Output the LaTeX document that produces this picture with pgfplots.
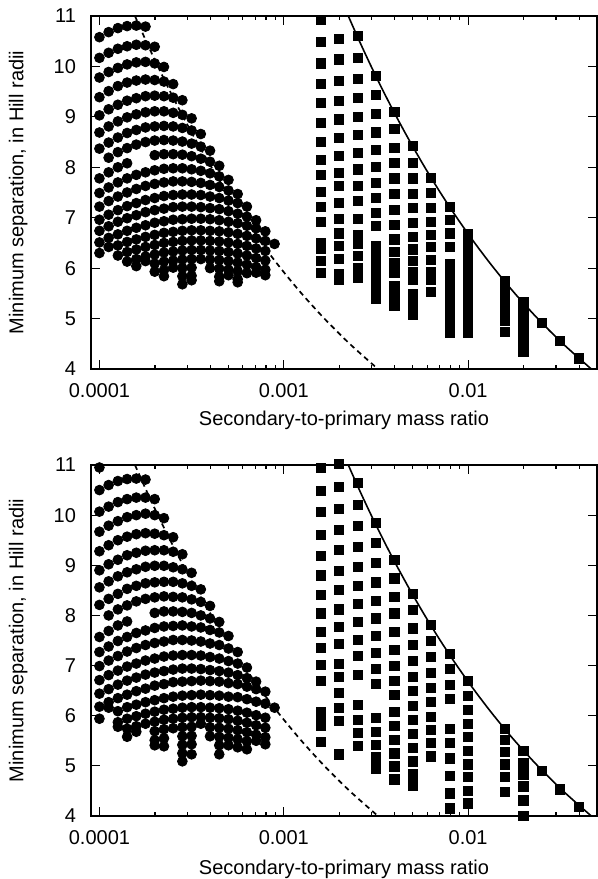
\documentclass[border=0pt]{standalone}
\usepackage{fontspec}
\setmainfont{Liberation Sans}
\usepackage{pgfplots}
\usepackage{pgfplotstable}
\pgfplotsset{compat=1.18}

% circles, top panel: one row per mass ratio, one column per sequence
\pgfplotstableread{
x a0 a1 a2 a3 a4 a5 a6 a7 a8 a9 a10 a11 a12 a13 a14 a15 a16 a17 a18 a19 a20
1.000e-4 10.58 10.17 9.78 9.39 9.03 8.69 8.37 nan 7.78 7.49 7.22 6.96 6.74 6.51 6.30 nan nan nan nan nan nan
1.122e-4 10.68 10.27 9.89 9.51 9.15 8.81 8.49 8.19 7.90 7.60 7.33 7.06 6.83 6.60 6.42 nan nan nan nan nan nan
1.259e-4 10.76 10.35 9.97 9.61 9.24 8.91 8.59 8.30 8.00 7.70 7.42 7.15 6.92 6.67 6.45 6.25 nan nan nan nan nan
1.413e-4 10.80 10.40 10.04 9.68 9.32 8.99 8.68 8.38 8.08 7.78 7.50 7.23 6.99 6.74 6.52 6.32 6.13 nan nan nan nan
1.585e-4 10.81 10.43 10.08 9.72 9.37 9.05 8.74 8.45 nan 7.85 7.57 7.29 7.05 6.80 6.57 6.37 6.18 6.04 nan nan nan
1.778e-4 10.79 10.42 10.09 9.74 9.41 9.09 8.79 8.50 nan 7.90 7.63 7.35 7.11 6.85 6.62 6.42 6.23 6.14 nan nan nan
1.995e-4 nan 10.39 10.06 9.73 9.42 9.11 8.81 8.53 8.24 7.94 7.67 7.39 7.15 6.90 6.66 6.46 6.27 6.09 5.93 nan nan
2.239e-4 nan nan 9.99 9.70 9.41 9.11 8.82 8.54 8.26 7.97 7.70 7.43 7.18 6.93 6.70 6.50 6.31 6.13 5.96 5.84 nan
2.512e-4 nan nan nan 9.65 9.38 9.08 8.81 8.53 8.26 7.98 7.72 7.45 7.21 6.96 6.72 6.52 6.33 6.15 6.01 nan nan
2.818e-4 nan nan nan nan 9.33 9.04 8.78 8.51 8.25 7.98 7.72 7.46 7.22 6.97 6.74 6.54 6.35 6.17 6.00 5.84 5.68
3.162e-4 nan nan nan nan nan 8.97 8.73 8.47 8.22 7.96 7.71 7.46 7.22 6.98 6.75 6.55 6.36 6.18 6.01 5.85 5.76
3.548e-4 nan nan nan nan nan nan 8.66 8.41 8.17 7.93 7.69 7.45 7.21 6.98 6.75 6.55 6.36 6.18 nan nan nan
3.981e-4 nan nan nan nan nan nan nan 8.33 8.11 7.88 7.65 7.42 7.19 6.97 6.74 6.54 6.35 6.17 6.00 nan nan
4.467e-4 nan nan nan nan nan nan nan nan 8.03 7.82 7.61 7.39 7.17 6.95 6.73 6.53 6.34 6.16 5.99 5.83 5.74
5.012e-4 nan nan nan nan nan nan nan nan nan 7.75 7.54 7.34 7.13 6.92 6.71 6.51 6.32 6.14 5.97 5.86 nan
5.623e-4 nan nan nan nan nan nan nan nan nan nan 7.47 7.29 7.08 6.89 6.68 6.48 6.29 6.11 5.94 5.78 5.72
6.310e-4 nan nan nan nan nan nan nan nan nan nan nan 7.22 7.02 6.84 6.64 6.44 6.25 6.07 5.90 nan nan
7.079e-4 nan nan nan nan nan nan nan nan nan nan nan nan 6.95 6.79 6.59 6.39 6.20 6.02 5.91 nan nan
7.943e-4 nan nan nan nan nan nan nan nan nan nan nan nan nan 6.73 6.54 6.34 6.15 5.97 5.86 nan nan
8.913e-4 nan nan nan nan nan nan nan nan nan nan nan nan nan nan 6.48 nan nan nan nan nan nan
}\topcirc

% circles, bottom panel
\pgfplotstableread{
x b0 b1 b2 b3 b4 b5 b6 b7 b8 b9 b10 b11 b12 b13 b14 b15 b16 b17 b18 b19 b20 b21 b22
1.000e-4 10.95 10.50 10.07 9.67 9.28 8.90 8.56 8.21 nan 7.57 7.27 6.99 6.71 6.44 6.18 5.94 nan nan nan nan nan nan nan
1.122e-4 nan 10.60 10.17 9.79 9.40 9.02 8.68 8.33 8.00 7.69 7.38 7.10 6.81 6.53 6.27 6.16 nan nan nan nan nan nan nan
1.259e-4 nan 10.68 10.26 9.88 9.50 9.11 8.78 8.43 8.12 7.80 7.49 7.19 6.90 6.62 6.35 6.09 5.87 5.78 nan nan nan nan nan
1.413e-4 nan 10.72 10.32 9.96 9.57 9.20 8.86 8.53 8.20 7.88 7.57 7.28 6.98 6.70 6.42 6.17 5.94 5.74 5.58 nan nan nan nan
1.585e-4 nan 10.73 10.35 10.00 9.62 9.25 8.92 8.59 8.28 nan 7.65 7.35 7.04 6.76 6.49 6.22 5.99 5.79 5.68 nan nan nan nan
1.778e-4 nan 10.71 10.35 10.03 9.64 9.29 8.97 8.64 8.33 nan 7.70 7.41 7.10 6.82 6.54 6.27 6.04 5.84 nan nan nan nan nan
1.995e-4 nan nan 10.32 10.00 9.63 9.30 8.99 8.66 8.36 8.05 7.75 7.45 7.14 6.86 6.60 6.31 6.08 5.88 5.69 5.51 5.41 nan nan
2.239e-4 nan nan nan 9.94 9.60 9.30 8.99 8.67 8.38 8.08 7.78 7.48 7.18 6.89 6.63 6.35 6.12 5.92 5.73 5.55 5.39 nan nan
2.512e-4 nan nan nan nan 9.56 9.27 8.96 8.67 8.37 8.08 7.79 7.51 7.20 6.92 6.67 6.38 6.14 5.94 5.75 nan nan nan nan
2.818e-4 nan nan nan nan nan 9.22 8.92 8.64 8.36 8.07 7.80 7.51 7.21 6.94 6.68 6.40 6.16 5.96 5.77 5.59 5.42 5.25 5.09
3.162e-4 nan nan nan nan nan nan 8.85 8.59 8.32 8.05 7.78 7.50 7.21 6.94 6.69 6.41 6.17 5.97 5.78 5.60 5.43 5.23 nan
3.548e-4 nan nan nan nan nan nan nan 8.52 8.27 8.00 7.76 7.48 7.20 6.93 6.70 6.42 6.17 5.97 5.84 nan nan nan nan
3.981e-4 nan nan nan nan nan nan nan nan 8.19 7.94 7.71 7.44 7.17 6.91 6.69 6.41 6.16 5.96 5.77 5.59 nan nan nan
4.467e-4 nan nan nan nan nan nan nan nan nan 7.87 7.66 7.41 7.14 6.89 6.68 6.40 6.15 5.95 5.76 5.58 5.41 5.23 nan
5.012e-4 nan nan nan nan nan nan nan nan nan nan 7.59 7.34 7.09 6.86 6.65 6.38 6.13 5.93 5.74 5.56 5.41 nan nan
5.623e-4 nan nan nan nan nan nan nan nan nan nan nan 7.27 7.04 6.81 6.63 6.37 6.10 5.90 5.71 5.53 5.37 nan nan
6.310e-4 nan nan nan nan nan nan nan nan nan nan nan nan 6.96 6.75 6.58 6.33 6.06 5.86 5.67 5.49 5.33 nan nan
7.079e-4 nan nan nan nan nan nan nan nan nan nan nan nan nan 6.68 6.53 6.28 6.01 5.81 5.62 5.50 nan nan nan
7.943e-4 nan nan nan nan nan nan nan nan nan nan nan nan nan nan 6.48 6.24 5.96 5.76 5.57 5.43 nan nan nan
8.913e-4 nan nan nan nan nan nan nan nan nan nan nan nan nan nan nan 6.16 nan nan nan nan nan nan nan
}\botcirc

% squares, top panel
\pgfplotstableread{
x y
1.585e-3 10.92
1.585e-3 10.49
1.585e-3 10.06
1.585e-3 9.66
1.585e-3 9.27
1.585e-3 8.88
1.585e-3 8.51
1.585e-3 8.14
1.585e-3 7.85
1.585e-3 7.51
1.585e-3 7.22
1.585e-3 6.92
1.585e-3 6.50
1.585e-3 6.38
1.585e-3 6.15
1.585e-3 5.91
1.995e-3 10.54
1.995e-3 10.14
1.995e-3 9.72
1.995e-3 9.32
1.995e-3 8.95
1.995e-3 8.59
1.995e-3 8.23
1.995e-3 7.89
1.995e-3 7.63
1.995e-3 7.30
1.995e-3 6.97
1.995e-3 6.69
1.995e-3 6.44
1.995e-3 6.19
1.995e-3 5.88
1.995e-3 5.76
2.512e-3 10.61
2.512e-3 10.17
2.512e-3 9.76
2.512e-3 9.37
2.512e-3 9.00
2.512e-3 8.64
2.512e-3 8.28
2.512e-3 7.96
2.512e-3 7.63
2.512e-3 7.33
2.512e-3 6.97
2.512e-3 6.66
2.512e-3 6.49
2.512e-3 6.24
2.512e-3 6.01
2.512e-3 5.80
3.162e-3 9.81
3.162e-3 9.43
3.162e-3 9.06
3.162e-3 8.69
3.162e-3 8.34
3.162e-3 8.01
3.162e-3 7.69
3.162e-3 7.40
3.162e-3 7.10
3.162e-3 6.83
3.162e-3 6.44
3.162e-3 6.27
3.162e-3 6.09
3.162e-3 5.91
3.162e-3 5.75
3.162e-3 5.57
3.162e-3 5.39
3.981e-3 9.10
3.981e-3 8.76
3.981e-3 8.39
3.981e-3 8.08
3.981e-3 7.78
3.981e-3 7.48
3.981e-3 7.16
3.981e-3 6.85
3.981e-3 6.57
3.981e-3 6.32
3.981e-3 6.11
3.981e-3 5.91
3.981e-3 5.64
3.981e-3 5.50
3.981e-3 5.37
3.981e-3 5.25
5.012e-3 8.43
5.012e-3 8.09
5.012e-3 7.78
5.012e-3 7.48
5.012e-3 7.19
5.012e-3 6.90
5.012e-3 6.62
5.012e-3 6.37
5.012e-3 6.15
5.012e-3 5.93
5.012e-3 5.76
5.012e-3 5.48
5.012e-3 5.32
5.012e-3 5.17
5.012e-3 5.08
6.310e-3 7.79
6.310e-3 7.49
6.310e-3 7.19
6.310e-3 6.91
6.310e-3 6.66
6.310e-3 6.42
6.310e-3 6.16
6.310e-3 5.93
6.310e-3 5.76
6.310e-3 5.53
7.943e-3 7.22
7.943e-3 6.95
7.943e-3 6.69
7.943e-3 6.42
7.943e-3 6.08
7.943e-3 5.91
7.943e-3 5.74
7.943e-3 5.57
7.943e-3 5.40
7.943e-3 5.23
7.943e-3 5.06
7.943e-3 4.89
7.943e-3 4.72
1.000e-2 6.68
1.000e-2 6.51
1.000e-2 6.35
1.000e-2 6.19
1.000e-2 6.02
1.000e-2 5.86
1.000e-2 5.70
1.000e-2 5.54
1.000e-2 5.37
1.000e-2 5.21
1.000e-2 5.05
1.000e-2 4.89
1.000e-2 4.72
1.585e-2 5.74
1.585e-2 5.58
1.585e-2 5.42
1.585e-2 5.27
1.585e-2 5.11
1.585e-2 4.95
1.585e-2 4.74
1.995e-2 5.32
1.995e-2 5.16
1.995e-2 5.00
1.995e-2 4.84
1.995e-2 4.68
1.995e-2 4.51
1.995e-2 4.35
2.512e-2 4.92
3.162e-2 4.56
3.981e-2 4.21
}\topsq

% squares, bottom panel
\pgfplotstableread{
x y
1.585e-3 10.95
1.585e-3 10.49
1.585e-3 10.06
1.585e-3 9.60
1.585e-3 9.18
1.585e-3 8.80
1.585e-3 8.41
1.585e-3 8.04
1.585e-3 7.67
1.585e-3 7.35
1.585e-3 7.02
1.585e-3 6.70
1.585e-3 6.08
1.585e-3 5.93
1.585e-3 5.79
1.585e-3 5.47
1.995e-3 11.03
1.995e-3 10.57
1.995e-3 10.12
1.995e-3 9.70
1.995e-3 9.30
1.995e-3 8.89
1.995e-3 8.51
1.995e-3 8.12
1.995e-3 7.77
1.995e-3 7.43
1.995e-3 7.03
1.995e-3 6.78
1.995e-3 6.46
1.995e-3 6.16
1.995e-3 5.90
1.995e-3 5.23
2.512e-3 10.65
2.512e-3 10.20
2.512e-3 9.78
2.512e-3 9.37
2.512e-3 8.97
2.512e-3 8.59
2.512e-3 8.23
2.512e-3 7.87
2.512e-3 7.51
2.512e-3 7.19
2.512e-3 6.82
2.512e-3 6.21
2.512e-3 5.91
2.512e-3 5.66
2.512e-3 5.40
3.162e-3 9.85
3.162e-3 9.44
3.162e-3 9.04
3.162e-3 8.66
3.162e-3 8.29
3.162e-3 7.94
3.162e-3 7.59
3.162e-3 7.26
3.162e-3 6.94
3.162e-3 6.63
3.162e-3 5.96
3.162e-3 5.68
3.162e-3 5.41
3.162e-3 5.17
3.162e-3 4.95
3.981e-3 9.10
3.981e-3 8.74
3.981e-3 8.37
3.981e-3 8.04
3.981e-3 7.67
3.981e-3 7.32
3.981e-3 6.99
3.981e-3 6.69
3.981e-3 6.41
3.981e-3 6.08
3.981e-3 5.79
3.981e-3 5.51
3.981e-3 5.25
3.981e-3 4.99
3.981e-3 4.73
5.012e-3 8.43
5.012e-3 8.11
5.012e-3 7.74
5.012e-3 7.41
5.012e-3 7.10
5.012e-3 6.78
5.012e-3 6.49
5.012e-3 6.19
5.012e-3 5.91
5.012e-3 5.63
5.012e-3 5.36
5.012e-3 5.09
5.012e-3 4.83
5.012e-3 4.61
6.310e-3 7.81
6.310e-3 7.49
6.310e-3 7.17
6.310e-3 6.86
6.310e-3 6.56
6.310e-3 6.28
6.310e-3 5.98
6.310e-3 5.71
6.310e-3 5.46
6.310e-3 5.19
7.943e-3 7.23
7.943e-3 6.93
7.943e-3 6.61
7.943e-3 6.33
7.943e-3 5.73
7.943e-3 5.45
7.943e-3 5.15
7.943e-3 4.80
7.943e-3 4.45
7.943e-3 4.15
1.000e-2 6.70
1.000e-2 6.40
1.000e-2 6.11
1.000e-2 5.84
1.000e-2 5.58
1.000e-2 5.30
1.000e-2 5.03
1.000e-2 4.78
1.000e-2 4.50
1.000e-2 4.25
1.585e-2 5.73
1.585e-2 5.52
1.585e-2 5.28
1.585e-2 5.03
1.585e-2 4.78
1.585e-2 4.48
1.995e-2 5.30
1.995e-2 5.05
1.995e-2 4.83
1.995e-2 4.59
1.995e-2 4.31
1.995e-2 4.00
2.512e-2 4.90
3.162e-2 4.53
3.981e-2 4.18
}\botsq

\begin{document}
\begin{tikzpicture}
\useasboundingbox (0,0) rectangle (299pt,-439.5pt);

\begin{axis}[
    at={(45.5pt,-8pt)}, anchor=north west,
    scale only axis, width=253pt, height=176.5pt,
    xmode=log,
    xmin=9e-5, xmax=0.05, ymin=4, ymax=11,
    font=\fontsize{10}{12}\selectfont,
    xtick={1e-4,1e-3,1e-2}, xticklabels={0.0001,0.001,0.01},
    minor xtick={2e-4,3e-4,4e-4,5e-4,6e-4,7e-4,8e-4,9e-4,2e-3,3e-3,4e-3,5e-3,6e-3,7e-3,8e-3,9e-3,2e-2,3e-2,4e-2},
    ytick={4,5,6,7,8,9,10,11}, yticklabels={4,5,6,7,8,9,10,11},
    tick align=inside, major tick length=4.5pt, minor tick length=2.2pt,
    tick style={black, line width=0.6pt},
    axis line style={line width=0.8pt},
    xticklabel style={yshift=-3.5pt},
    yticklabel style={xshift=-4pt},
    clip=false,
    xlabel={Secondary-to-primary mass ratio},
    ylabel={Minimum separation, in Hill radii},
    xlabel style={at={(axis description cs:0.5,-0.145)}, anchor=center},
    ylabel style={at={(axis description cs:-0.144,0.5)}, anchor=center},
  ]
\pgfplotsinvokeforeach{0,...,20}{\addplot[only marks, mark=*, mark size=2.45pt, black] table[x=x,y=a#1]{\topcirc};}
\addplot[only marks, mark=square*, mark size=2.3pt, black] table[x=x,y=y]{\topsq};
\addplot[black, line width=0.85pt, dash pattern=on 2.6pt off 2pt, smooth, mark=none] coordinates {(1.559e-4,11) (1.7925e-4,10.5) (2.075e-4,10) (2.420e-4,9.5) (2.846e-4,9) (3.379e-4,8.5) (4.053e-4,8) (4.918e-4,7.5) (6.050e-4,7) (7.556e-4,6.5) (9.61e-4,6) (1.247e-3,5.5) (1.660e-3,5) (2.277e-3,4.5) (3.242e-3,4)};
\addplot[black, line width=0.8pt, smooth, mark=none] coordinates {(2.239e-3,11) (2.574e-3,10.5) (2.98e-3,10) (3.476e-3,9.5) (4.088e-3,9) (4.853e-3,8.5) (5.820e-3,8) (7.063e-3,7.5) (8.688e-3,7) (1.0852e-2,6.5) (1.3796e-2,6) (1.7909e-2,5.5) (2.384e-2,5) (3.270e-2,4.5) (4.656e-2,4)};
\end{axis}

\begin{axis}[
    at={(45.5pt,-232.5pt)}, anchor=north west,
    scale only axis, width=253pt, height=175.5pt,
    xmode=log,
    xmin=9e-5, xmax=0.05, ymin=4, ymax=11,
    font=\fontsize{10}{12}\selectfont,
    xtick={1e-4,1e-3,1e-2}, xticklabels={0.0001,0.001,0.01},
    minor xtick={2e-4,3e-4,4e-4,5e-4,6e-4,7e-4,8e-4,9e-4,2e-3,3e-3,4e-3,5e-3,6e-3,7e-3,8e-3,9e-3,2e-2,3e-2,4e-2},
    ytick={4,5,6,7,8,9,10,11}, yticklabels={4,5,6,7,8,9,10,11},
    tick align=inside, major tick length=4.5pt, minor tick length=2.2pt,
    tick style={black, line width=0.6pt},
    axis line style={line width=0.8pt},
    xticklabel style={yshift=-3.5pt},
    yticklabel style={xshift=-4pt},
    clip=false,
    xlabel={Secondary-to-primary mass ratio},
    ylabel={Minimum separation, in Hill radii},
    xlabel style={at={(axis description cs:0.5,-0.151)}, anchor=center},
    ylabel style={at={(axis description cs:-0.144,0.5)}, anchor=center},
  ]
\pgfplotsinvokeforeach{0,...,22}{\addplot[only marks, mark=*, mark size=2.45pt, black] table[x=x,y=b#1]{\botcirc};}
\addplot[only marks, mark=square*, mark size=2.3pt, black] table[x=x,y=y]{\botsq};
\addplot[black, line width=0.85pt, dash pattern=on 2.6pt off 2pt, smooth, mark=none] coordinates {(1.559e-4,11) (1.7925e-4,10.5) (2.075e-4,10) (2.420e-4,9.5) (2.846e-4,9) (3.379e-4,8.5) (4.053e-4,8) (4.918e-4,7.5) (6.050e-4,7) (7.556e-4,6.5) (9.61e-4,6) (1.247e-3,5.5) (1.660e-3,5) (2.277e-3,4.5) (3.242e-3,4)};
\addplot[black, line width=0.8pt, smooth, mark=none] coordinates {(2.239e-3,11) (2.574e-3,10.5) (2.98e-3,10) (3.476e-3,9.5) (4.088e-3,9) (4.853e-3,8.5) (5.820e-3,8) (7.063e-3,7.5) (8.688e-3,7) (1.0852e-2,6.5) (1.3796e-2,6) (1.7909e-2,5.5) (2.384e-2,5) (3.270e-2,4.5) (4.656e-2,4)};
\end{axis}
\end{tikzpicture}
\end{document}
